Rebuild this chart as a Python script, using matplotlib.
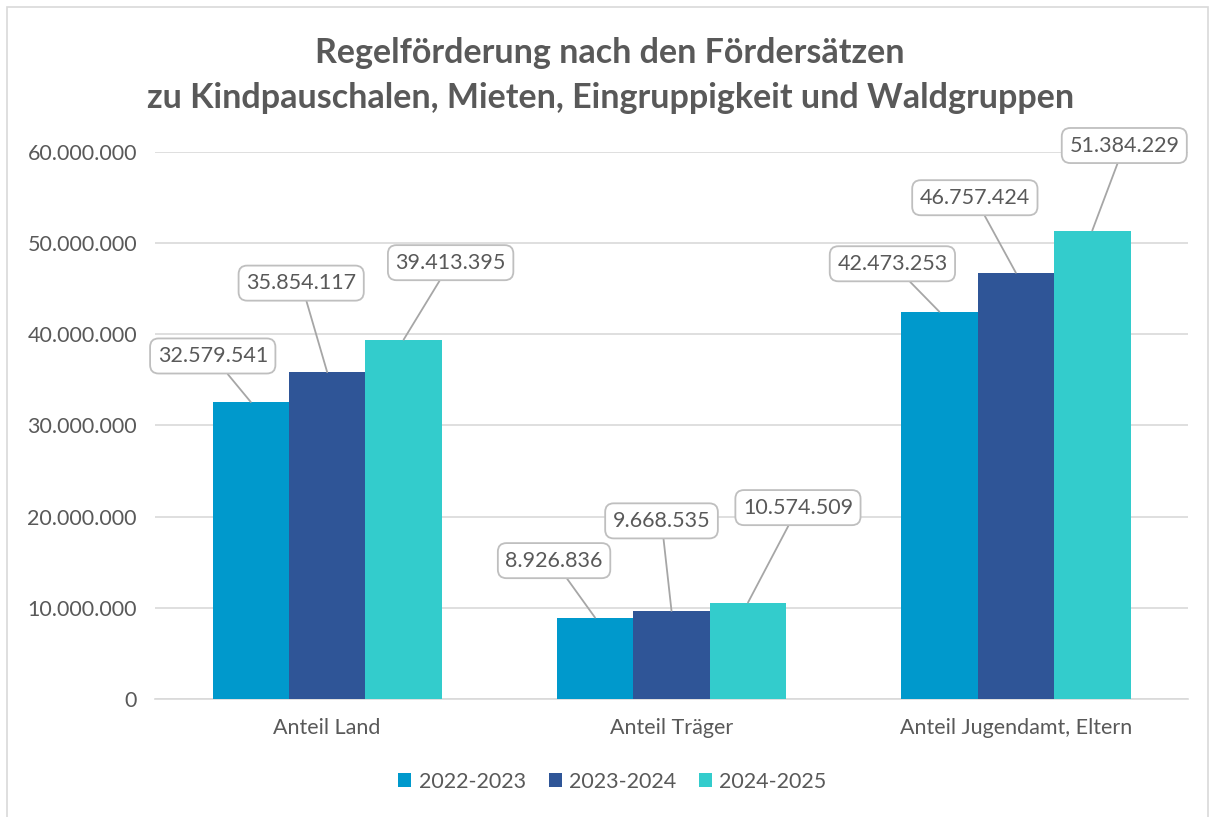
import numpy as np
import matplotlib.pyplot as plt
from matplotlib.patches import Rectangle

plt.rcParams['font.family'] = ['Lato', 'DejaVu Sans']

# Daten
kategorien = ['Anteil Land', 'Anteil Träger', 'Anteil Jugendamt, Eltern']
jahre = ['2022-2023', '2023-2024', '2024-2025']
werte_2022 = [32579541, 8926836, 42473253]
werte_2023 = [35854117, 9668535, 46757424]
werte_2024 = [39413395, 10574509, 51384229]
yticks = [0, 10000000, 20000000, 30000000, 40000000, 50000000, 60000000]

farben = ['#0099CC', '#2F5597', '#33CCCC']
grau = '#595959'

# Versatz der Beschriftungsboxen (Pixel) je Serie / Kategorie
versatz = [
    [(-38, 46), (-41, 57), (-47, 48)],
    [(-26, 89), (-10, 90), (-41, 75)],
    [(47, 77), (50, 95), (32, 85)],
]

fig = plt.figure(figsize=(12.13, 8.17), dpi=100)
ax = fig.add_axes([0.1278, 0.1444, 0.8516, 0.6696])

# Rahmen um das Diagramm
fig.patches.append(Rectangle((7 / 1213, -0.01), 1201 / 1213, 1 - 7 / 817 + 0.01,
                             transform=fig.transFigure, fill=False,
                             edgecolor='#D9D9D9', linewidth=1.2))

x = np.arange(len(kategorien))
breite = 0.222
serien = [werte_2022, werte_2023, werte_2024]

for i, (werte, farbe, jahr) in enumerate(zip(serien, farben, jahre)):
    pos = x + (i - 1) * breite
    ax.bar(pos, werte, breite, color=farbe, label=jahr, zorder=3)
    for j, (px, w) in enumerate(zip(pos, werte)):
        txt = f'{w:,}'.replace(',', '.')
        ax.annotate(txt, xy=(px, w), xytext=versatz[i][j], textcoords='offset pixels',
                    ha='center', va='center', fontsize=15.5, color=grau, zorder=5,
                    bbox=dict(boxstyle='round,pad=0.35,rounding_size=0.4',
                              fc='white', ec='#BFBFBF', lw=1.3),
                    arrowprops=dict(arrowstyle='-', color='#A6A6A6', lw=1.3,
                                    shrinkA=0, shrinkB=0))

ax.set_xlim(-0.5, 2.5)
ax.set_ylim(0, 60000000)
ax.set_yticks(yticks)
ax.set_yticklabels([f'{t:,}'.replace(',', '.') for t in yticks])
ax.set_xticks(x)
ax.set_xticklabels(kategorien)
ax.tick_params(axis='both', length=0, labelsize=15.5, labelcolor=grau)
ax.tick_params(axis='y', pad=13)
ax.tick_params(axis='x', pad=14)
ax.grid(axis='y', color='#D9D9D9', linewidth=1.2, zorder=0)
for s in ['top', 'right', 'left']:
    ax.spines[s].set_visible(False)
ax.spines['bottom'].set_color('#D9D9D9')
ax.spines['bottom'].set_linewidth(1.2)

fig.text(0.503, 0.908, 'Regelförderung nach den Fördersätzen\nzu Kindpauschalen, Mieten, Eingruppigkeit und Waldgruppen',
         ha='center', va='center', fontsize=24.5, fontweight='bold', color=grau, linespacing=1.5)

fig.legend(loc='center', bbox_to_anchor=(0.505, 0.043), ncol=3, frameon=False,
           fontsize=15.5, labelcolor=grau, handlelength=0.6, handleheight=0.6,
           handletextpad=0.35, columnspacing=1.05)

fig.savefig('out.png', dpi=100)
